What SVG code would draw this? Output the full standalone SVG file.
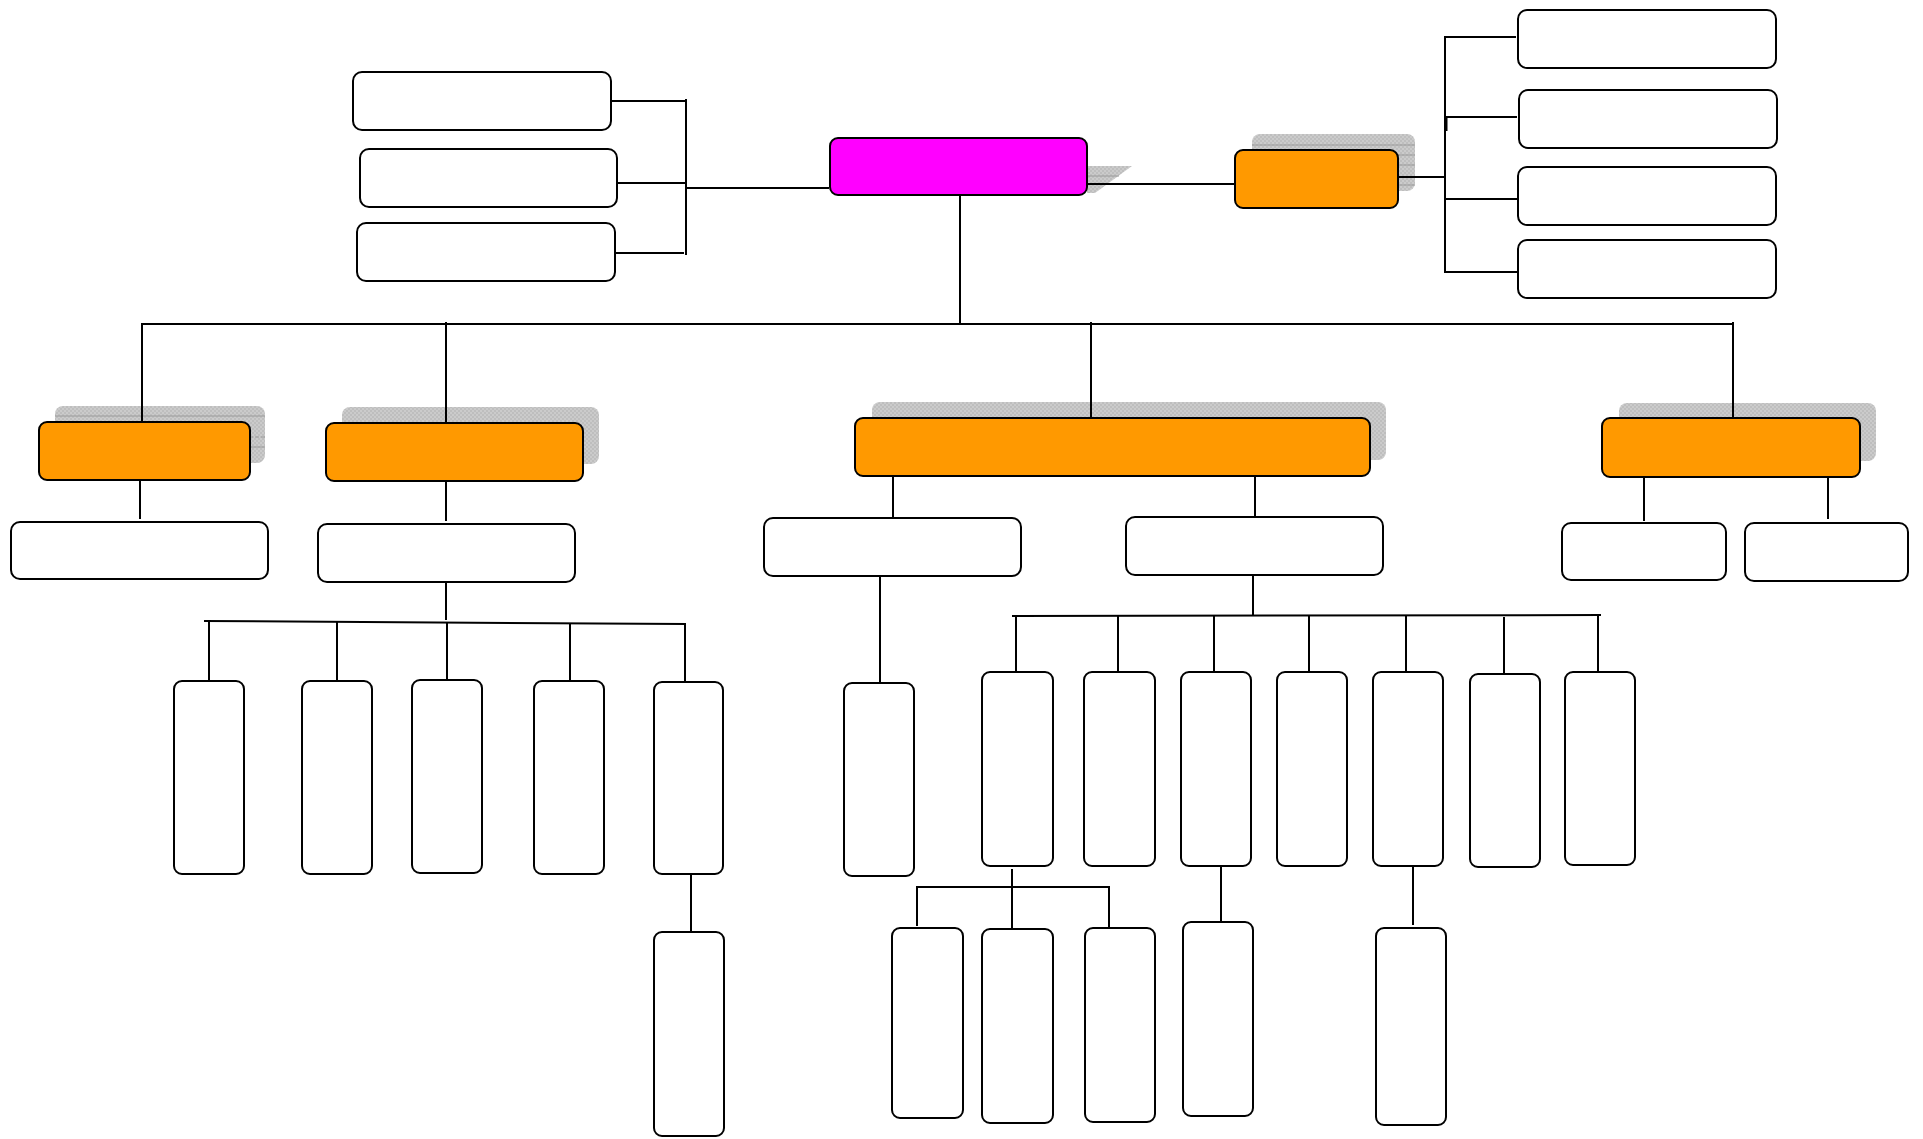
<svg xmlns="http://www.w3.org/2000/svg" width="1923" height="1139" viewBox="0 0 1923 1139">
<style>
.box{fill:#ffffff;stroke:#000;stroke-width:2}
.org{fill:#FF9900;stroke:#000;stroke-width:2}
.mag{fill:#FF00FF;stroke:#000;stroke-width:2}
.sh{fill:url(#chk);stroke:none}
.hl{stroke:#9a9a9a;stroke-width:1}
.c{stroke:#000;stroke-width:2;fill:none}
</style>
<defs>
<pattern id="chk" width="4" height="4" patternUnits="userSpaceOnUse">
<rect width="4" height="4" fill="#cbcbcb"/>
<rect width="2" height="2" fill="#bebebe"/>
<rect x="2" y="2" width="2" height="2" fill="#bebebe"/>
</pattern>
</defs>
<rect width="1923" height="1139" fill="#fff"/>

<g id="n-root">
<polygon class="sh" points="1087,166 1132,166 1095,193 1087,193"/>
<line class="hl" x1="1087" y1="176" x2="1119" y2="176"/>
<rect class="mag" x="830" y="138" width="257" height="57" rx="8"/>
</g>

<g id="n-tr">
<rect class="sh" x="1252" y="134" width="163" height="57" rx="8"/>
<line class="hl" x1="1252" y1="145" x2="1415" y2="145"/>
<line class="hl" x1="1252" y1="155" x2="1415" y2="155"/>
<line class="hl" x1="1252" y1="165" x2="1415" y2="165"/>
<line class="hl" x1="1252" y1="185" x2="1415" y2="185"/>
<rect class="org" x="1235" y="150" width="163" height="58" rx="8"/>
</g>

<g id="n-a1"><rect class="box" x="353" y="72" width="258" height="58" rx="9"/></g>
<g id="n-a2"><rect class="box" x="360" y="149" width="257" height="58" rx="9"/></g>
<g id="n-a3"><rect class="box" x="357" y="223" width="258" height="58" rx="9"/></g>

<g id="n-b1"><rect class="box" x="1518" y="10" width="258" height="58" rx="9"/></g>
<g id="n-b2"><rect class="box" x="1519" y="90" width="258" height="58" rx="9"/></g>
<g id="n-b3"><rect class="box" x="1518" y="167" width="258" height="58" rx="9"/></g>
<g id="n-b4"><rect class="box" x="1518" y="240" width="258" height="58" rx="9"/></g>

<g id="n-l1">
<rect class="sh" x="55" y="406" width="210" height="57" rx="8"/>
<line class="hl" x1="55" y1="416" x2="265" y2="416"/>
<line class="hl" x1="249" y1="437" x2="265" y2="437" stroke-dasharray="4,2"/>
<line class="hl" x1="249" y1="447" x2="265" y2="447"/>
<rect class="org" x="39" y="422" width="211" height="58" rx="8"/>
</g>
<g id="n-l2">
<rect class="sh" x="342" y="407" width="257" height="57" rx="8"/>
<rect class="org" x="326" y="423" width="257" height="58" rx="8"/>
</g>
<g id="n-c">
<rect class="sh" x="872" y="402" width="514" height="58" rx="8"/>
<rect class="org" x="855" y="418" width="515" height="58" rx="8"/>
</g>
<g id="n-r">
<rect class="sh" x="1619" y="403" width="257" height="58" rx="8"/>
<rect class="org" x="1602" y="418" width="258" height="59" rx="8"/>
</g>

<g id="n-w1"><rect class="box" x="11" y="522" width="257" height="57" rx="9"/></g>
<g id="n-w2"><rect class="box" x="318" y="524" width="257" height="58" rx="9"/></g>
<g id="n-w3"><rect class="box" x="764" y="518" width="257" height="58" rx="9"/></g>
<g id="n-w4"><rect class="box" x="1126" y="517" width="257" height="58" rx="9"/></g>
<g id="n-w5"><rect class="box" x="1562" y="523" width="164" height="57" rx="9"/></g>
<g id="n-w6"><rect class="box" x="1745" y="523" width="163" height="58" rx="9"/></g>

<g id="n-t1"><rect class="box" x="174" y="681" width="70" height="193" rx="8"/></g>
<g id="n-t2"><rect class="box" x="302" y="681" width="70" height="193" rx="8"/></g>
<g id="n-t3"><rect class="box" x="412" y="680" width="70" height="193" rx="8"/></g>
<g id="n-t4"><rect class="box" x="534" y="681" width="70" height="193" rx="8"/></g>
<g id="n-t5"><rect class="box" x="654" y="682" width="69" height="192" rx="8"/></g>
<g id="n-t5b"><rect class="box" x="654" y="932" width="70" height="204" rx="8"/></g>
<g id="n-t6"><rect class="box" x="844" y="683" width="70" height="193" rx="8"/></g>
<g id="n-t7"><rect class="box" x="982" y="672" width="71" height="194" rx="8"/></g>
<g id="n-t8"><rect class="box" x="1084" y="672" width="71" height="194" rx="8"/></g>
<g id="n-t9"><rect class="box" x="1181" y="672" width="70" height="194" rx="8"/></g>
<g id="n-t10"><rect class="box" x="1277" y="672" width="70" height="194" rx="8"/></g>
<g id="n-t11"><rect class="box" x="1373" y="672" width="70" height="194" rx="8"/></g>
<g id="n-t12"><rect class="box" x="1470" y="674" width="70" height="193" rx="8"/></g>
<g id="n-t13"><rect class="box" x="1565" y="672" width="70" height="193" rx="8"/></g>
<g id="n-t14"><rect class="box" x="892" y="928" width="71" height="190" rx="8"/></g>
<g id="n-t15"><rect class="box" x="982" y="929" width="71" height="194" rx="8"/></g>
<g id="n-t16"><rect class="box" x="1085" y="928" width="70" height="194" rx="8"/></g>
<g id="n-t17"><rect class="box" x="1183" y="922" width="70" height="194" rx="8"/></g>
<g id="n-t18"><rect class="box" x="1376" y="928" width="70" height="197" rx="8"/></g>

<g id="connectors">
<line class="c" x1="612" y1="101" x2="686" y2="101"/>
<line class="c" x1="617" y1="183" x2="686" y2="183"/>
<line class="c" x1="615" y1="253" x2="684" y2="253"/>
<line class="c" x1="686" y1="99" x2="686" y2="255"/>
<line class="c" x1="686" y1="188" x2="829" y2="188"/>
<line class="c" x1="1088" y1="184" x2="1234" y2="184"/>
<line class="c" x1="1399" y1="177" x2="1445" y2="177"/>
<line class="c" x1="1445" y1="36" x2="1445" y2="273"/>
<line class="c" x1="1446" y1="117" x2="1446" y2="131" style="stroke-width:3"/>
<line class="c" x1="1444" y1="37" x2="1516" y2="37"/>
<line class="c" x1="1444" y1="117" x2="1517" y2="117"/>
<line class="c" x1="1444" y1="199" x2="1518" y2="199"/>
<line class="c" x1="1444" y1="272" x2="1518" y2="272"/>
<line class="c" x1="960" y1="196" x2="960" y2="324"/>
<line class="c" x1="142" y1="324" x2="1733" y2="324"/>
<line class="c" x1="142" y1="323" x2="142" y2="421"/>
<line class="c" x1="446" y1="322" x2="446" y2="422"/>
<line class="c" x1="1091" y1="322" x2="1091" y2="417"/>
<line class="c" x1="1733" y1="322" x2="1733" y2="417"/>
<line class="c" x1="140" y1="481" x2="140" y2="519"/>
<line class="c" x1="446" y1="482" x2="446" y2="521"/>
<line class="c" x1="893" y1="477" x2="893" y2="517"/>
<line class="c" x1="1255" y1="477" x2="1255" y2="516"/>
<line class="c" x1="1644" y1="478" x2="1644" y2="521"/>
<line class="c" x1="1828" y1="478" x2="1828" y2="519"/>
<line class="c" x1="446" y1="583" x2="446" y2="620"/>
<line class="c" x1="204" y1="621" x2="686" y2="624"/>
<line class="c" x1="209" y1="621" x2="209" y2="680"/>
<line class="c" x1="337" y1="622" x2="337" y2="680"/>
<line class="c" x1="447" y1="622" x2="447" y2="679"/>
<line class="c" x1="570" y1="623" x2="570" y2="680"/>
<line class="c" x1="685" y1="623" x2="685" y2="681"/>
<line class="c" x1="691" y1="875" x2="691" y2="931"/>
<line class="c" x1="880" y1="577" x2="880" y2="682"/>
<line class="c" x1="1253" y1="576" x2="1253" y2="616"/>
<line class="c" x1="1012" y1="616" x2="1601" y2="615"/>
<line class="c" x1="1016" y1="616" x2="1016" y2="671"/>
<line class="c" x1="1118" y1="616" x2="1118" y2="671"/>
<line class="c" x1="1214" y1="616" x2="1214" y2="671"/>
<line class="c" x1="1309" y1="616" x2="1309" y2="671"/>
<line class="c" x1="1406" y1="616" x2="1406" y2="671"/>
<line class="c" x1="1504" y1="617" x2="1504" y2="673"/>
<line class="c" x1="1598" y1="615" x2="1598" y2="671"/>
<line class="c" x1="1012" y1="869" x2="1012" y2="928"/>
<polyline class="c" points="917,926 917,887 1109,887 1109,927"/>
<line class="c" x1="1221" y1="867" x2="1221" y2="921"/>
<line class="c" x1="1413" y1="867" x2="1413" y2="925"/>
</g>
</svg>
